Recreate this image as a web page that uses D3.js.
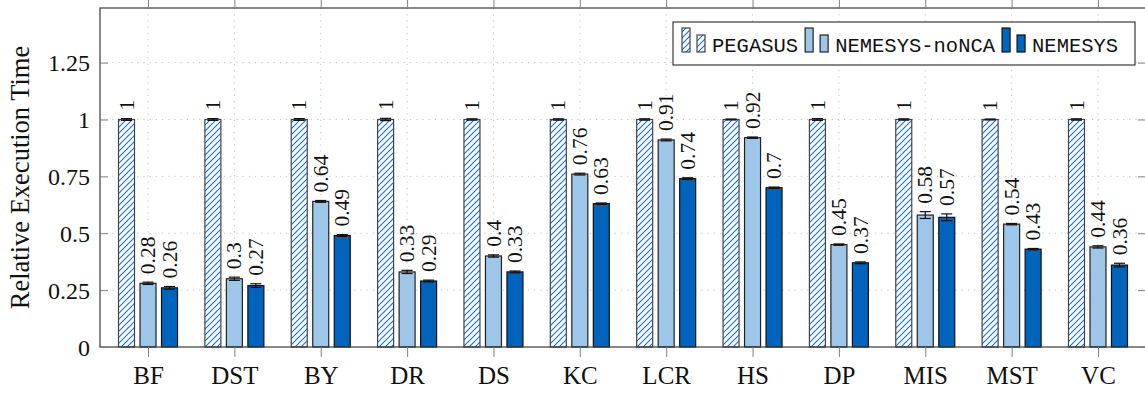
<!DOCTYPE html>
<html><head><meta charset="utf-8">
<script src="https://cdn.jsdelivr.net/npm/d3@7"></script>
<style>body{margin:0;background:#fff} svg{display:block}</style>
</head><body><svg id="chart" width="1145" height="394"></svg>
<script>
// Benchmarks on the x axis
const categories = ["BF","DST","BY","DR","DS","KC","LCR","HS","DP","MIS","MST","VC"];
const seriesNames = ["PEGASUS","NEMESYS-noNCA","NEMESYS"];
// Execution time relative to PEGASUS
const pegasus      = [1,1,1,1,1,1,1,1,1,1,1,1];
const nemesysNoNCA = [0.28,0.3,0.64,0.33,0.4,0.76,0.91,0.92,0.45,0.58,0.54,0.44];
const nemesys      = [0.26,0.27,0.49,0.29,0.33,0.63,0.74,0.7,0.37,0.57,0.43,0.36];
// Half-width of the error bars
const pegasusErr      = [0.004,0.004,0.004,0.005,0.003,0.003,0.003,0.002,0.004,0.003,0.002,0.003];
const nemesysNoNCAErr = [0.005,0.007,0.004,0.007,0.005,0.004,0.004,0.003,0.003,0.015,0.003,0.005];
const nemesysErr      = [0.006,0.008,0.004,0.004,0.004,0.003,0.004,0.003,0.004,0.015,0.003,0.008];
const yTicks = [0,0.25,0.5,0.75,1,1.25];
const yTickLabels = ["0","0.25","0.5","0.75","1","1.25"];
const yTitle = "Relative Execution Time";

const series = [
  {name: seriesNames[0], values: pegasus, err: pegasusErr, fill: "url(#hatch)", stroke: "#444"},
  {name: seriesNames[1], values: nemesysNoNCA, err: nemesysNoNCAErr, fill: "#9dc6e8", stroke: "#222"},
  {name: seriesNames[2], values: nemesys, err: nemesysErr, fill: "#0064bd", stroke: "#111"}
];

const svg = d3.select("#chart");
const plot = {left: 100, right: 1146, top: 8, bottom: 347};
const serif = "'Liberation Serif', 'DejaVu Serif', serif";
const mono = "'Liberation Mono', 'DejaVu Sans Mono', monospace";

const x = d3.scalePoint().domain(categories).range([plot.left, plot.right]).padding(0.556);
const y = d3.scaleLinear().domain([0, 1.49]).range([plot.bottom, plot.top]);
const barW = 16, barGap = 21.5;

// Hatch pattern for the PEGASUS bars
const defs = svg.append("defs");
const pat = defs.append("pattern").attr("id", "hatch").attr("patternUnits", "userSpaceOnUse")
  .attr("width", 6).attr("height", 6);
pat.append("rect").attr("width", 6).attr("height", 6).attr("fill", "#fff");
pat.append("path").attr("d", "M-1,7 L7,-1 M-1,1 L1,-1 M5,7 L7,5")
  .attr("stroke", "#1672d4").attr("stroke-width", 1.1);

// Grid
const grid = svg.append("g").attr("stroke", "#c4c4c4").attr("stroke-dasharray", "1.2,5").attr("stroke-width", 1);
grid.selectAll("line.h").data(yTicks.filter(d => d > 0)).join("line")
  .attr("x1", plot.left).attr("x2", plot.right).attr("y1", d => y(d)).attr("y2", d => y(d));
grid.selectAll("line.v").data(categories).join("line")
  .attr("x1", d => x(d)).attr("x2", d => x(d)).attr("y1", plot.top).attr("y2", plot.bottom);

// Bars, error bars and value labels
const marks = svg.append("g");
series.forEach((s, si) => {
  const off = (si - 1) * barGap;
  const g = marks.append("g");
  const items = categories.map((c, i) => ({c, v: s.values[i], e: s.err[i]}));
  g.selectAll("rect").data(items).join("rect")
    .attr("x", d => x(d.c) + off - barW / 2).attr("width", barW)
    .attr("y", d => y(d.v)).attr("height", d => y(0) - y(d.v))
    .attr("fill", s.fill).attr("stroke", s.stroke).attr("stroke-width", 1.2);
  const eb = g.append("g").attr("stroke", "#111").attr("stroke-width", 1.2);
  items.forEach(d => {
    const cx = x(d.c) + off;
    eb.append("line").attr("x1", cx).attr("x2", cx).attr("y1", y(d.v - d.e)).attr("y2", y(d.v + d.e));
    eb.append("line").attr("x1", cx - 5.5).attr("x2", cx + 5.5).attr("y1", y(d.v - d.e)).attr("y2", y(d.v - d.e));
    eb.append("line").attr("x1", cx - 5.5).attr("x2", cx + 5.5).attr("y1", y(d.v + d.e)).attr("y2", y(d.v + d.e));
  });
  g.selectAll("text").data(items).join("text")
    .attr("transform", d => `translate(${x(d.c) + off},${y(d.v + d.e) - 8}) rotate(-90)`)
    .attr("dy", "0.33em")
    .attr("font-family", serif).attr("font-size", 21.5).attr("fill", "#111")
    .text(d => String(d.v));
});

// Axis frame and ticks
const axisCol = "#3a3a3a", tickCol = "#808080";
svg.append("rect").attr("x", plot.left).attr("y", plot.top)
  .attr("width", plot.right - plot.left).attr("height", plot.bottom - plot.top)
  .attr("fill", "none").attr("stroke", axisCol).attr("stroke-width", 1.2);

const xAxisB = d3.axisBottom(x).tickSize(10).tickPadding(9);
const gxb = svg.append("g").attr("transform", `translate(0,${plot.bottom})`).call(xAxisB);
gxb.select(".domain").remove();
gxb.selectAll(".tick line").attr("stroke", tickCol);
gxb.selectAll(".tick text").attr("font-family", serif).attr("font-size", 25).attr("fill", "#111");

const xAxisT = d3.axisTop(x).tickSize(10).tickFormat("");
const gxt = svg.append("g").attr("transform", `translate(0,${plot.top})`).call(xAxisT);
gxt.select(".domain").remove();
gxt.selectAll(".tick line").attr("stroke", tickCol);

const yAxisL = d3.axisLeft(y).tickValues(yTicks).tickSize(-8).tickPadding(10)
  .tickFormat((d, i) => yTickLabels[i]);
const gyl = svg.append("g").attr("transform", `translate(${plot.left},0)`).call(yAxisL);
gyl.select(".domain").remove();
gyl.selectAll(".tick line").attr("stroke", tickCol);
gyl.selectAll(".tick text").attr("font-family", serif).attr("font-size", 24).attr("fill", "#111").attr("dy", "0.34em");

const yAxisR = d3.axisRight(y).tickValues(yTicks).tickSize(-8).tickFormat("");
const gyr = svg.append("g").attr("transform", `translate(${plot.right},0)`).call(yAxisR);
gyr.select(".domain").remove();
gyr.selectAll(".tick line").attr("stroke", tickCol);

// Y axis title
svg.append("text").attr("transform", `translate(29,${(plot.top + plot.bottom) / 2}) rotate(-90)`)
  .attr("text-anchor", "middle").attr("font-family", serif).attr("font-size", 26.5).attr("fill", "#111")
  .text(yTitle);

// Legend
const leg = svg.append("g");
leg.append("rect").attr("x", 673).attr("y", 22).attr("width", 462).attr("height", 43)
  .attr("fill", "#fff").attr("stroke", axisCol).attr("stroke-width", 1.2);
let lx = 682;
series.forEach(s => {
  leg.append("rect").attr("x", lx).attr("y", 28).attr("width", 8).attr("height", 24)
    .attr("fill", s.fill).attr("stroke", s.stroke).attr("stroke-width", 1.2);
  leg.append("rect").attr("x", lx + 15).attr("y", 35).attr("width", 8).attr("height", 17)
    .attr("fill", s.fill).attr("stroke", s.stroke).attr("stroke-width", 1.2);
  const t = leg.append("text").attr("x", lx + 30).attr("y", 51.5)
    .attr("font-family", mono).attr("font-size", 20.5).attr("fill", "#111").text(s.name);
  lx = lx + 30 + t.node().getComputedTextLength() + 7;
});
</script>
</body></html>
